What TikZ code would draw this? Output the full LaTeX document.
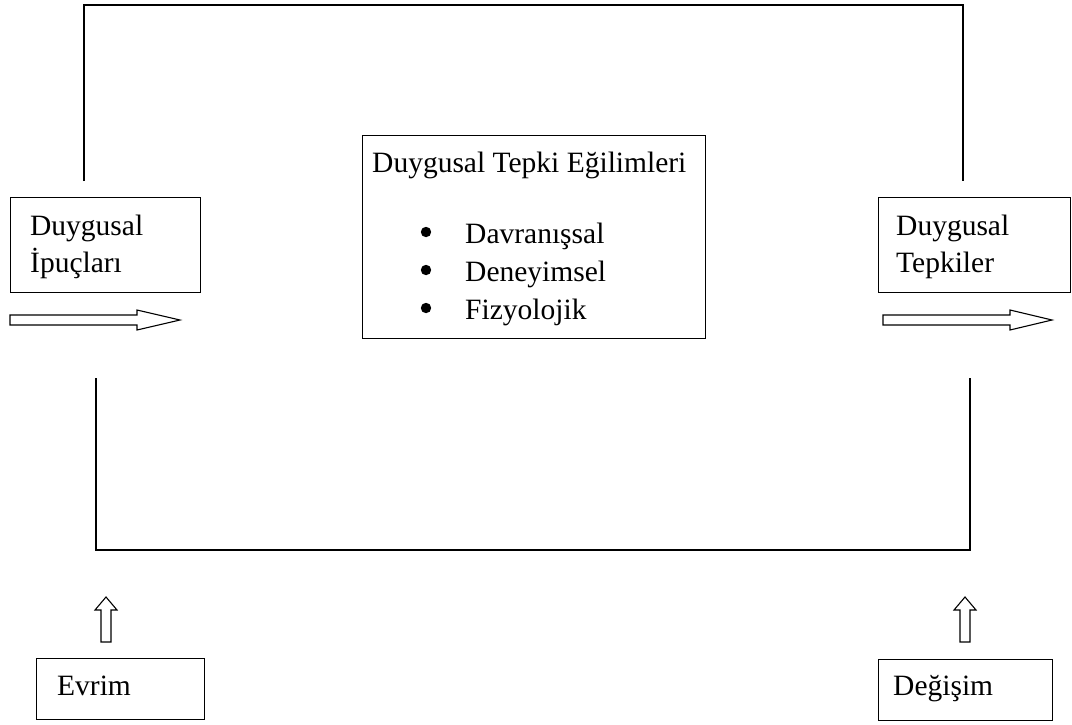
\documentclass[tikz,border=0pt]{standalone}
\usepackage{fontspec}
\setmainfont{Liberation Serif}
\begin{document}
\begin{tikzpicture}[x=1pt,y=-1pt,
  box/.style={draw,line width=1.2pt,inner sep=0pt,anchor=north west},
  txt/.style={anchor=base west,inner sep=0pt,font=\fontsize{29.5}{38}\selectfont},
  line/.style={line width=1.2pt},
  hollow/.style={draw,line width=1.1pt,fill=white,line join=miter}]
\useasboundingbox (0,0) rectangle (1072,724);
% boxes
\node[box,minimum width=190pt,minimum height=95pt] (lbox) at (10,197) {};
\node[box,minimum width=192pt,minimum height=95pt] (rbox) at (878,197) {};
\node[box,minimum width=343pt,minimum height=203pt] (cbox) at (362,135) {};
\node[box,minimum width=168pt,minimum height=61pt] (ebox) at (36,658) {};
\node[box,minimum width=174pt,minimum height=61pt] (dbox) at (878,659) {};
% texts
\node[txt] (l1) at (30,235) {Duygusal};
\node[txt] (l2) at (30,272) {İpuçları};
\node[txt] (r1) at (896,235) {Duygusal};
\node[txt] (r2) at (896,272) {Tepkiler};
\node[txt] (ct) at (372,172) {Duygusal Tepki Eğilimleri};
\node[txt] (c1) at (465,243) {Davranışsal};
\node[txt] (c2) at (465,281) {Deneyimsel};
\node[txt] (c3) at (465,319) {Fizyolojik};
\fill (426,232) circle (5.2);
\fill (426,270) circle (5.2);
\fill (426,308) circle (5.2);
\node[txt] (ev) at (57,695) {Evrim};
\node[txt] (dg) at (893,695) {Değişim};
% top connector
\coordinate (tl) at (84,181);
\coordinate (tr) at (963,181);
\draw[line] (tl) -- (84,5) -- (963,5) -- (tr);
% bottom connector
\coordinate (bl) at (96,378);
\coordinate (br) at (970,378);
\draw[line] (bl) -- (96,550) -- (970,550) -- (br);
% horizontal hollow arrows
\draw[hollow] (10,315) -- (137,315) -- (137,310) -- (180,320) -- (137,330) -- (137,325) -- (10,325) -- cycle;
\draw[hollow] (883,315) -- (1010,315) -- (1010,310) -- (1052,320) -- (1010,330) -- (1010,325) -- (883,325) -- cycle;
% vertical hollow arrows
\draw[hollow] (101,642) -- (101,610) -- (95,610) -- (106,597) -- (117,610) -- (111,610) -- (111,642) -- cycle;
\draw[hollow] (960,642) -- (960,610) -- (954,610) -- (965,597) -- (976,610) -- (970,610) -- (970,642) -- cycle;
\end{tikzpicture}
\end{document}
